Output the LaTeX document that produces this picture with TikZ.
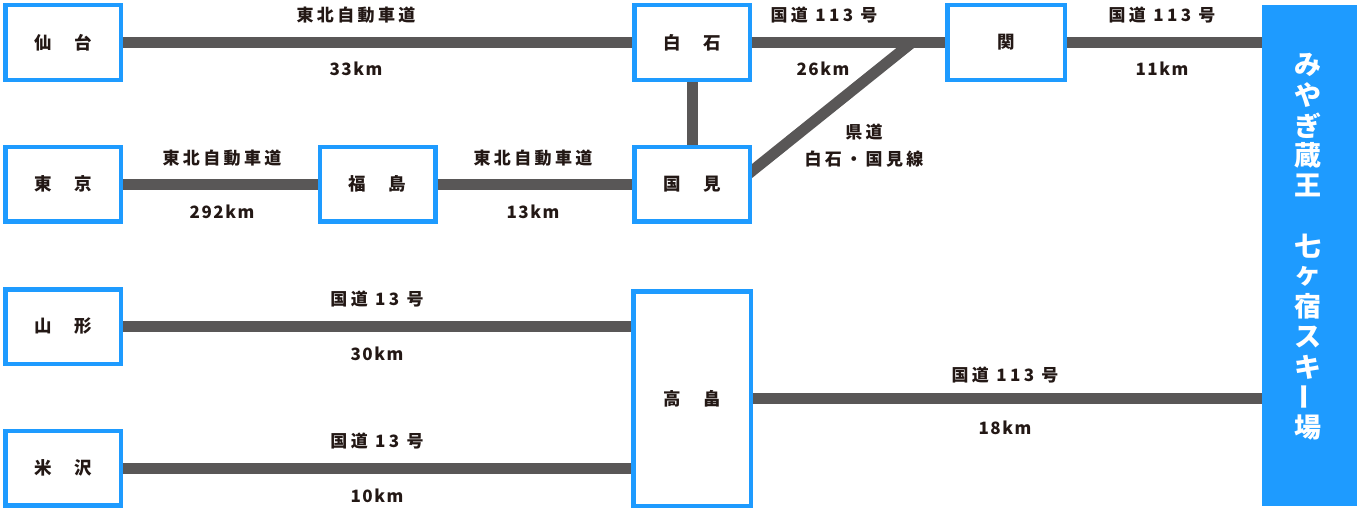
\documentclass[tikz,border=0pt]{standalone}
\usepackage{fontspec}
\setmainfont{Noto Sans CJK JP}
\newfontfamily\lblfont{Noto Sans CJK JP}[LetterSpace=20]
\newfontfamily\kmfont{Noto Sans CJK JP}[LetterSpace=9]
\usetikzlibrary{calc,backgrounds}
\definecolor{roadc}{RGB}{89,87,87}
\definecolor{bluec}{RGB}{30,155,255}
\definecolor{txtc}{RGB}{35,24,21}
\begin{document}
\begin{tikzpicture}[x=1pt,y=-1pt,
 place/.style={draw=bluec, line width=4.5pt, fill=white, minimum width=115.5pt, minimum height=74.5pt, inner sep=0pt, text=txtc, font=\fontsize{17.5}{20}\selectfont\bfseries},
 road/.style={draw=roadc, line width=11pt},
 lbl/.style={text=txtc, font=\lblfont\fontsize{17}{20}\selectfont\bfseries, inner sep=0pt},
 kml/.style={text=txtc, font=\kmfont\fontsize{17}{20}\selectfont\bfseries, inner sep=0pt},
 vch/.style={text=white, font=\fontsize{27}{30}\selectfont\bfseries, inner sep=0pt}]
\useasboundingbox (0,0) rectangle (1357,511);
% places
\node[place] (sendai) at (63,42.5) {仙\hspace{23pt}台};
\node[place] (tokyo) at (63,184) {東\hspace{23pt}京};
\node[place] (yamagata) at (63,326.5) {山\hspace{23pt}形};
\node[place] (yonezawa) at (63,468) {米\hspace{23pt}沢};
\node[place] (fukushima) at (377.5,184) {福\hspace{23pt}島};
\node[place] (shiroishi) at (692,42.5) {白\hspace{23pt}石};
\node[place] (kunimi) at (692,184) {国\hspace{23pt}見};
\node[place, minimum width=117.5pt, minimum height=214.5pt] (takahata) at (692,398.5) {高\hspace{23pt}畠};
\node[place, minimum width=117.5pt] (seki) at (1006,42.5) {関};
\node[fill=bluec, draw=none, minimum width=95pt, minimum height=501pt, inner sep=0pt, outer sep=0pt] (zao) at (1309.5,255.5) {};
% roads
\coordinate (jn) at (912,42.5);
\coordinate (kd) at ($(kunimi.east)+(0,-13)$);
\begin{scope}[on background layer]
\draw[road] (sendai.east) -- (shiroishi.west);
\draw[road] (shiroishi.east) -- (seki.west);
\draw[road] (seki.east) -- (seki.east -| zao.west);
\draw[road] (tokyo.east) -- (fukushima.west);
\draw[road] (fukushima.east) -- (kunimi.west);
\draw[road] (shiroishi.south) -- (kunimi.north);
\draw[road] ($(kd)!-0.08!(jn)$) -- (jn);
\draw[road] (yamagata.east) -- (yamagata.east -| takahata.west);
\draw[road] (yonezawa.east) -- (yonezawa.east -| takahata.west);
\draw[road] (takahata.east) -- (takahata.east -| zao.west);
\end{scope}
% labels
\node[lbl] (l1) at (356,15.5) {東北自動車道};
\node[kml] (l2) at (356,69) {33km};
\node[lbl] (l3) at (824,15.5) {国道 113 号};
\node[kml] (l4) at (823,69) {26km};
\node[lbl] (l5) at (864,132) {県道};
\node[lbl] (l6) at (864,159.5) {白石・国見線};
\node[lbl] (l7) at (1162,15.5) {国道 113 号};
\node[kml] (l8) at (1162,69) {11km};
\node[lbl] (l9) at (222,158) {東北自動車道};
\node[kml] (l10) at (222,211.5) {292km};
\node[lbl] (l11) at (533,158) {東北自動車道};
\node[kml] (l12) at (533,211.5) {13km};
\node[lbl] (l13) at (377,299) {国道 13 号};
\node[kml] (l14) at (377,354) {30km};
\node[lbl] (l15) at (377,441) {国道 13 号};
\node[kml] (l16) at (377,496) {10km};
\node[lbl] (l17) at (1005,375) {国道 113 号};
\node[kml] (l18) at (1005,427.5) {18km};
% vertical title
\foreach \c [count=\i from 0] in {み,や,ぎ,蔵,王,,七,ヶ,宿,ス,キ,,場}
  \node[vch] (v\i) at (1308,65+30.2*\i) {\c};
\node[vch, rotate=90] (vbar) at (1308,397.2) {ー};
\end{tikzpicture}
\end{document}
